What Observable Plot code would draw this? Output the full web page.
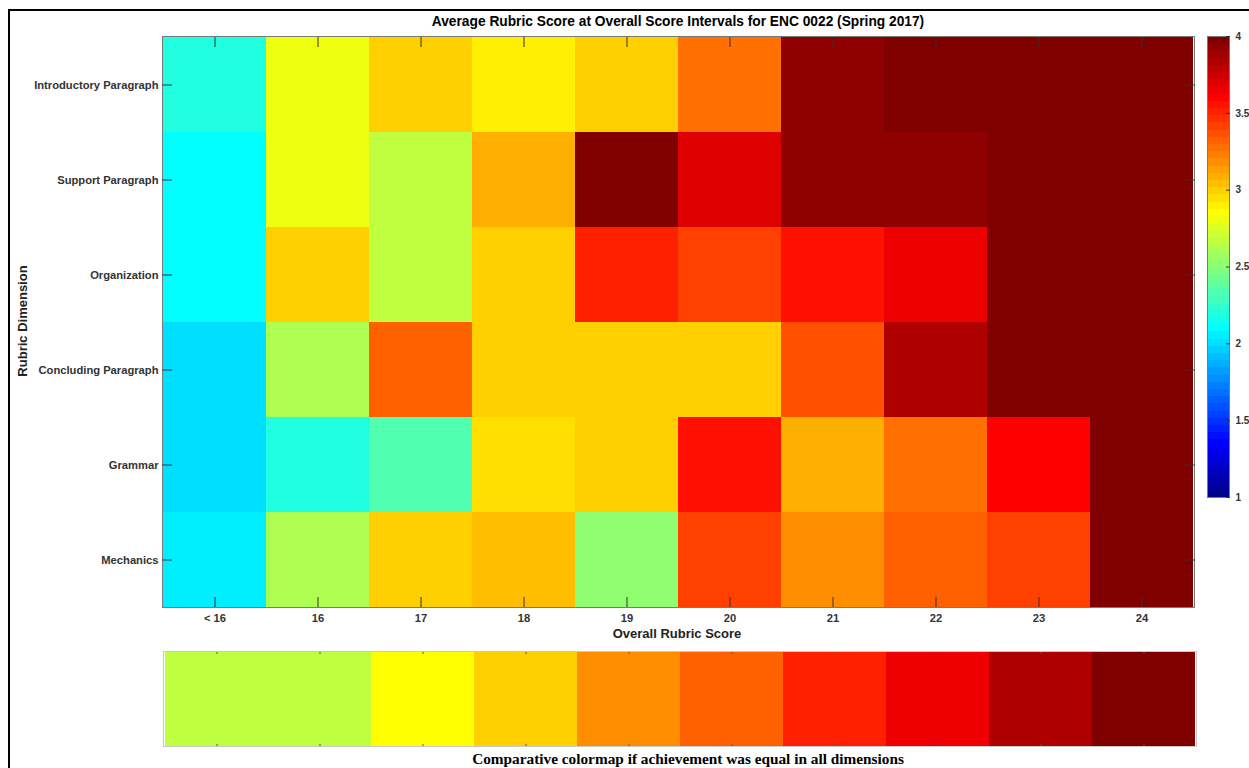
<!DOCTYPE html>
<html><head><meta charset="utf-8">
<script src="https://cdn.jsdelivr.net/npm/d3@7"></script>
<script src="https://cdn.jsdelivr.net/npm/@observablehq/plot@0.6"></script>
<style>
body{margin:0;background:#fff;}
#wrap{position:relative;width:1249px;height:768px;overflow:hidden;font-family:"Liberation Sans",Arial,sans-serif;}
.abs{position:absolute;white-space:nowrap;}
#wrap svg{position:absolute;overflow:visible;}
</style></head><body>
<div id="wrap">
  <div class="abs" style="left:8px;top:9px;width:1245px;height:765px;border-left:2px solid #000;border-top:2px solid #000;"></div>
  <div class="abs" id="title" style="left:678px;top:14px;transform:translateX(-50%);font-size:13.75px;line-height:16px;font-weight:bold;color:#000;">Average Rubric Score at Overall Score Intervals for ENC 0022 (Spring 2017)</div>
  <div class="abs" id="ylab" style="left:22px;top:321px;transform:translate(-50%,-50%) rotate(-90deg);font-size:13px;line-height:15px;font-weight:bold;color:#222;">Rubric Dimension</div>
  <div class="abs" id="xlab" style="left:677px;top:626px;transform:translateX(-50%);font-size:13px;line-height:15px;font-weight:bold;color:#222;">Overall Rubric Score</div>
  <div class="abs" id="cap" style="left:688px;top:750px;transform:translateX(-50%);font-family:'Liberation Serif','Times New Roman',serif;font-size:15.3px;line-height:17px;font-weight:bold;color:#000;">Comparative colormap if achievement was equal in all dimensions</div>
</div>
<script>
const scores = ["< 16","16","17","18","19","20","21","22","23","24"];
const dimensions = ["Introductory Paragraph","Support Paragraph","Organization","Concluding Paragraph","Grammar","Mechanics"];
const introductory = [2.2, 2.8, 3.0, 2.9, 3.0, 3.27, 3.93, 4.0, 4.0, 4.0];
const support      = [2.1, 2.8, 2.66, 3.08, 4.0, 3.7, 3.93, 3.93, 4.0, 4.0];
const organization = [2.1, 3.0, 2.66, 3.0, 3.5, 3.41, 3.55, 3.65, 4.0, 4.0];
const concluding   = [2.0, 2.62, 3.32, 3.0, 3.0, 3.0, 3.37, 3.83, 4.0, 4.0];
const grammar      = [2.0, 2.2, 2.33, 2.95, 3.0, 3.55, 3.08, 3.27, 3.6, 4.0];
const mechanics    = [2.05, 2.62, 3.0, 3.04, 2.52, 3.41, 3.18, 3.32, 3.41, 4.0];
const equalAchievement = [2.67, 2.67, 2.83, 3.0, 3.17, 3.33, 3.5, 3.67, 3.83, 4.0];
const colorbarTicks = [1, 1.5, 2, 2.5, 3, 3.5, 4];
const colorDomain = [1, 4];

// MATLAB-style jet colormap
function jet(m) {
  const n = Math.ceil(m / 4);
  const u = [];
  for (let i = 1; i <= n; i++) u.push(i / n);
  for (let i = 1; i < n; i++) u.push(1);
  for (let i = n; i >= 1; i--) u.push(i / n);
  const off = Math.ceil(n / 2) - (m % 4 === 1 ? 1 : 0);
  const L = u.length;
  const J = Array.from({length: m}, () => [0, 0, 0]);
  const g = d3.range(1, L + 1).map(k => off + k);
  const r = g.map(k => k + n).filter(k => k <= m);
  const b = g.map(k => k - n).filter(k => k >= 1);
  const gg = g.filter(k => k <= m);
  r.forEach((idx, j) => J[idx - 1][0] = u[j]);
  gg.forEach((idx, j) => J[idx - 1][1] = u[j]);
  b.forEach((idx, j) => J[idx - 1][2] = u[L - b.length + j]);
  return J.map(([R, G, B]) => d3.rgb(Math.round(R * 255), Math.round(G * 255), Math.round(B * 255)).formatHex());
}
const N = 64;
const [c0, c1] = colorDomain;
const thresholds = d3.range(1, N).map(k => c0 + (c1 - c0) * k / N);
const colorOpt = {type: "threshold", domain: thresholds, range: jet(N)};

const rows = [introductory, support, organization, concluding, grammar, mechanics];
const table = [];
dimensions.forEach((d, i) => scores.forEach((s, j) => table.push({dim: d, score: s, value: rows[i][j]})));

const baseStyle = {fontFamily: "'Liberation Sans', Arial, sans-serif", fontSize: "11.2px", fontWeight: "bold", color: "#333", background: "transparent"};
const tickStroke = "#333";

const main = Plot.plot({
  width: 1249, height: 640,
  marginLeft: 162, marginRight: 55, marginTop: 36, marginBottom: 33,
  x: {domain: scores, padding: 0, label: null},
  y: {domain: dimensions, padding: 0, label: null},
  color: colorOpt,
  style: baseStyle,
  marks: [
    Plot.cell(table, {x: "score", y: "dim", fill: "value", inset: 0, shapeRendering: "crispEdges"}),
    Plot.frame({stroke: "#7a7a7a"}),
    Plot.axisX({anchor: "bottom", tickSize: 0, tickPadding: 7, label: null}),
    Plot.axisX({anchor: "bottom", tickSize: 10, dy: -10, text: null, label: null, stroke: tickStroke}),
    Plot.axisX({anchor: "top", tickSize: 10, dy: 10, text: null, label: null, stroke: tickStroke}),
    Plot.axisY({anchor: "left", tickSize: 0, tickPadding: 4, label: null}),
    Plot.axisY({anchor: "left", tickSize: 10, dx: 10, text: null, label: null, stroke: tickStroke}),
    Plot.axisY({anchor: "right", tickSize: 10, dx: -10, text: null, label: null, stroke: tickStroke})
  ]
});
main.style.left = "0px"; main.style.top = "0px";

const stripes = d3.range(N).map(k => ({lo: c0 + (c1 - c0) * k / N, hi: c0 + (c1 - c0) * (k + 1) / N}));
const bar = Plot.plot({
  width: 59, height: 510,
  marginLeft: 17, marginRight: 20, marginTop: 36, marginBottom: 13,
  y: {domain: colorDomain, label: null},
  color: colorOpt,
  style: {...baseStyle, fontSize: "10px"},
  marks: [
    Plot.rect(stripes, {y1: "lo", y2: "hi", fill: d => (d.lo + d.hi) / 2, shapeRendering: "crispEdges"}),
    Plot.frame({stroke: "#7a7a7a"}),
    Plot.axisY(colorbarTicks, {anchor: "right", tickSize: 0, tickPadding: 6, label: null, tickFormat: d => String(d)}),
    Plot.axisY(colorbarTicks, {anchor: "right", tickSize: 4, dx: -4, text: null, label: null, stroke: tickStroke})
  ]
});
bar.style.left = "1190px"; bar.style.top = "0px";

const strip = scores.map((s, j) => ({score: s, value: equalAchievement[j]}));
const comp = Plot.plot({
  width: 1249, height: 120,
  marginLeft: 163, marginRight: 53, marginTop: 11, marginBottom: 14,
  x: {domain: scores, padding: 0, label: null},
  color: colorOpt,
  style: baseStyle,
  marks: [
    Plot.cell(strip, {x: "score", fill: "value", inset: 0, shapeRendering: "crispEdges"}),
    Plot.frame({stroke: "#c8c8c8"}),
    Plot.axisX({anchor: "bottom", tickSize: 2, dy: -2, text: null, label: null, stroke: "#555"}),
    Plot.axisX({anchor: "top", tickSize: 2, dy: 2, text: null, label: null, stroke: "#555"})
  ]
});
comp.style.left = "0px"; comp.style.top = "640px";

const wrap = document.getElementById("wrap");
wrap.appendChild(main);
wrap.appendChild(bar);
wrap.appendChild(comp);
</script>
</body></html>
